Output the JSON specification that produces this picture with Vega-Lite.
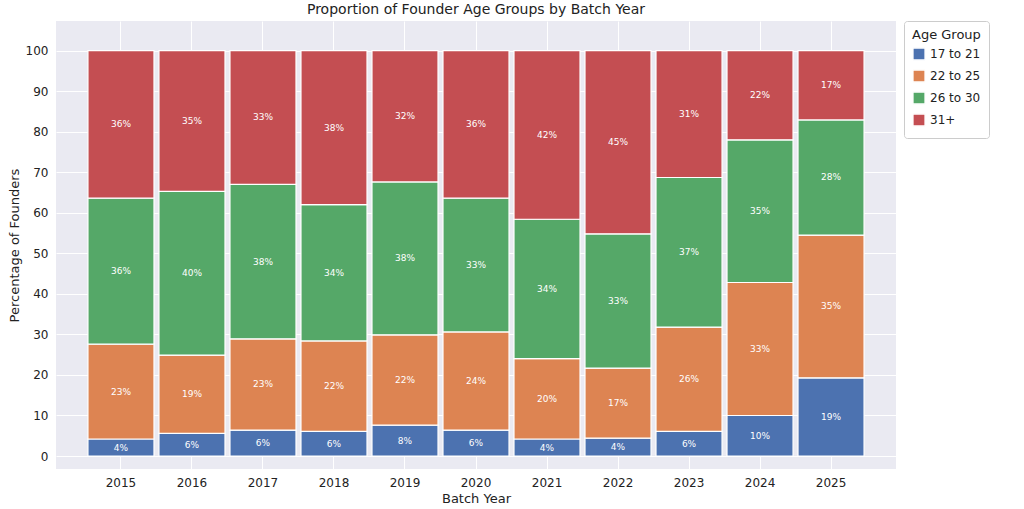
{
"$schema":"https://vega.github.io/schema/vega-lite/v6.json",
"width":840,"height":448,
"background":"white",
"padding":{"left":8,"top":2,"right":5,"bottom":2},
"title":{"text":"Proportion of Founder Age Groups by Batch Year","fontSize":14,"fontWeight":"normal","font":"DejaVu Sans","color":"#222","offset":4},
"config":{"view":{"fill":"#EAEAF2","stroke":null},"font":"DejaVu Sans",
 "axis":{"grid":true,"gridColor":"white","gridWidth":1,"domain":false,"ticks":false,"labelFontSize":12,"titleFontSize":13,"titleFontWeight":"normal","labelColor":"#222","titleColor":"#222","labelPadding":8}},
"data":{"values":[
{"year":"2015","g":"17 to 21","o":1,"v":4.2},{"year":"2015","g":"22 to 25","o":2,"v":23.4},{"year":"2015","g":"26 to 30","o":3,"v":36},{"year":"2015","g":"31+","o":4,"v":36.4},
{"year":"2016","g":"17 to 21","o":1,"v":5.6},{"year":"2016","g":"22 to 25","o":2,"v":19.3},{"year":"2016","g":"26 to 30","o":3,"v":40.4},{"year":"2016","g":"31+","o":4,"v":34.7},
{"year":"2017","g":"17 to 21","o":1,"v":6.4},{"year":"2017","g":"22 to 25","o":2,"v":22.5},{"year":"2017","g":"26 to 30","o":3,"v":38.1},{"year":"2017","g":"31+","o":4,"v":33},
{"year":"2018","g":"17 to 21","o":1,"v":6.1},{"year":"2018","g":"22 to 25","o":2,"v":22.3},{"year":"2018","g":"26 to 30","o":3,"v":33.6},{"year":"2018","g":"31+","o":4,"v":38},
{"year":"2019","g":"17 to 21","o":1,"v":7.6},{"year":"2019","g":"22 to 25","o":2,"v":22.3},{"year":"2019","g":"26 to 30","o":3,"v":37.7},{"year":"2019","g":"31+","o":4,"v":32.4},
{"year":"2020","g":"17 to 21","o":1,"v":6.4},{"year":"2020","g":"22 to 25","o":2,"v":24.2},{"year":"2020","g":"26 to 30","o":3,"v":33},{"year":"2020","g":"31+","o":4,"v":36.4},
{"year":"2021","g":"17 to 21","o":1,"v":4.2},{"year":"2021","g":"22 to 25","o":2,"v":19.8},{"year":"2021","g":"26 to 30","o":3,"v":34.4},{"year":"2021","g":"31+","o":4,"v":41.6},
{"year":"2022","g":"17 to 21","o":1,"v":4.4},{"year":"2022","g":"22 to 25","o":2,"v":17.3},{"year":"2022","g":"26 to 30","o":3,"v":33.1},{"year":"2022","g":"31+","o":4,"v":45.2},
{"year":"2023","g":"17 to 21","o":1,"v":6.1},{"year":"2023","g":"22 to 25","o":2,"v":25.7},{"year":"2023","g":"26 to 30","o":3,"v":36.9},{"year":"2023","g":"31+","o":4,"v":31.3},
{"year":"2024","g":"17 to 21","o":1,"v":10},{"year":"2024","g":"22 to 25","o":2,"v":32.8},{"year":"2024","g":"26 to 30","o":3,"v":35.2},{"year":"2024","g":"31+","o":4,"v":22},
{"year":"2025","g":"17 to 21","o":1,"v":19.3},{"year":"2025","g":"22 to 25","o":2,"v":35.2},{"year":"2025","g":"26 to 30","o":3,"v":28.4},{"year":"2025","g":"31+","o":4,"v":17.1}
]},
"transform":[
 {"stack":"v","groupby":["year"],"sort":[{"field":"o"}],"as":["y0","y1"]},
 {"calculate":"(datum.y0+datum.y1)/2","as":"mid"},
 {"calculate":"format(datum.v,'.0f')+'%'","as":"lab"}
],
"encoding":{"x":{"field":"year","type":"ordinal","title":"Batch Year","scale":{"paddingInner":0.07,"paddingOuter":0.45},"axis":{"labelAngle":0}}},
"layer":[
 {"mark":{"type":"bar","stroke":"white","strokeWidth":1.2},
  "encoding":{
   "y":{"field":"y0","type":"quantitative","title":"Percentage of Founders","scale":{"domain":[-3.2,107.3],"nice":false},"axis":{"values":[0,10,20,30,40,50,60,70,80,90,100]}},
   "y2":{"field":"y1"},
   "color":{"field":"g","type":"nominal","scale":{"domain":["17 to 21","22 to 25","26 to 30","31+"],"range":["#4C72B0","#DD8452","#55A868","#C44E52"]},
    "legend":{"title":"Age Group","orient":"right","offset":8,"titleFontSize":13,"titleFontWeight":"normal","labelFontSize":12,"symbolType":"square","symbolSize":150,"fillColor":"white","strokeColor":"#ccc","padding":8,"cornerRadius":3,"labelColor":"#222","titleColor":"#222"}}}},
 {"mark":{"type":"text","color":"white","fontSize":9},
  "encoding":{"y":{"field":"mid","type":"quantitative"},"text":{"field":"lab"}}}
]
}
